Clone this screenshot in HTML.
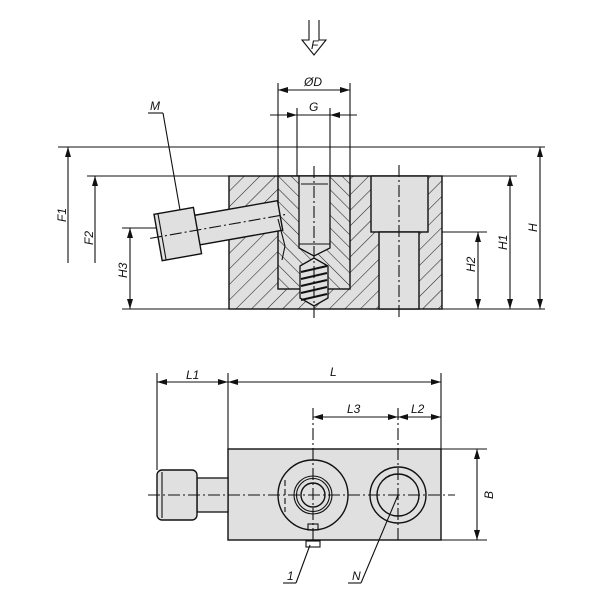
<!DOCTYPE html>
<html><head><meta charset="utf-8"><style>
html,body{margin:0;padding:0;background:#fff;}
svg{display:block;}
text{font-family:"Liberation Sans",sans-serif;font-style:italic;font-size:12px;fill:#111;}
</style></head><body>
<svg width="600" height="600" viewBox="0 0 600 600" xmlns="http://www.w3.org/2000/svg">
<defs>
<pattern id="h1" patternUnits="userSpaceOnUse" width="11" height="11" patternTransform="rotate(45)">
<rect width="11" height="11" fill="#e0e0e0"/><line x1="0" y1="0" x2="0" y2="11" stroke="#222" stroke-width="1.1"/></pattern>
<pattern id="h2" patternUnits="userSpaceOnUse" width="9" height="9" patternTransform="rotate(-45)">
<rect width="9" height="9" fill="#e0e0e0"/><line x1="0" y1="0" x2="0" y2="9" stroke="#222" stroke-width="1.1"/></pattern>
<marker id="a" viewBox="0 0 10 6" refX="10" refY="3" markerWidth="10" markerHeight="6" orient="auto-start-reverse" markerUnits="userSpaceOnUse"><path d="M0,0 L10,3 L0,6 z" fill="#111"/></marker>
</defs>
<g stroke="#111" fill="none" stroke-width="1.1">
<!-- F arrow -->
<path d="M309,20 V40 H302 L314,55 L326,40 H319 V20"/>
<text x="311" y="49" stroke="none" font-size="10">F</text>

<line x1="58" y1="147" x2="545" y2="147"/>
<line x1="87" y1="176" x2="517" y2="176"/>
<line x1="122" y1="309" x2="545" y2="309"/>
<line x1="430" y1="232" x2="487" y2="232"/>
<line x1="122" y1="228" x2="162" y2="228"/>
<line x1="68" y1="263" x2="68" y2="147" marker-end="url(#a)"/>
<line x1="95" y1="263" x2="95" y2="176" marker-end="url(#a)"/>
<line x1="130" y1="228" x2="130" y2="309" marker-start="url(#a)" marker-end="url(#a)"/>
<line x1="478" y1="232" x2="478" y2="309" marker-start="url(#a)" marker-end="url(#a)"/>
<line x1="510" y1="176" x2="510" y2="309" marker-start="url(#a)" marker-end="url(#a)"/>
<line x1="540" y1="147" x2="540" y2="309" marker-start="url(#a)" marker-end="url(#a)"/>

<line x1="278" y1="83" x2="278" y2="176"/>
<line x1="350" y1="83" x2="350" y2="176"/>
<line x1="297" y1="108" x2="297" y2="176"/>
<line x1="330" y1="108" x2="330" y2="176"/>
<line x1="278" y1="90" x2="350" y2="90" marker-start="url(#a)" marker-end="url(#a)"/>
<line x1="270" y1="115" x2="297" y2="115" marker-end="url(#a)"/>
<line x1="357" y1="115" x2="330" y2="115" marker-end="url(#a)"/>
<line x1="297" y1="115" x2="330" y2="115"/>

<rect x="229" y="176" width="213" height="133" fill="url(#h1)" stroke-width="1.4"/>
<rect x="278" y="176" width="72" height="113" fill="url(#h2)" stroke-width="1.4"/>
<path d="M299,176 V248 L314,256 L330,248 V176 Z" fill="#e0e0e0" stroke-width="1.3"/>
<line x1="301" y1="184" x2="328" y2="184"/>
<line x1="299" y1="244" x2="330" y2="244"/>
<path d="M300,266 L314,258 L328,266 V298 L314,306 L300,298 Z" fill="#e0e0e0" stroke-width="1.3"/>
<g stroke-width="2"><line x1="301" y1="272" x2="327" y2="266"/><line x1="301" y1="279" x2="327" y2="273"/><line x1="301" y1="286" x2="327" y2="280"/><line x1="301" y1="293" x2="327" y2="287"/><line x1="301" y1="300" x2="327" y2="294"/></g>
<rect x="371" y="176" width="57" height="56" fill="#e0e0e0" stroke-width="1.4"/>
<rect x="379" y="232" width="40" height="77" fill="#e0e0e0" stroke-width="1.4"/>
<line x1="399" y1="165" x2="399" y2="318" stroke-dasharray="12,3,2,3"/>
<line x1="314" y1="166" x2="314" y2="318" stroke-dasharray="12,3,2,3"/>
<g transform="rotate(-10 158 237)">
<rect x="196" y="222" width="86" height="30" fill="#e0e0e0" stroke-width="1.4"/>
<rect x="158" y="214" width="40" height="47" fill="#e0e0e0" stroke-width="1.4"/>
<line x1="162" y1="214" x2="162" y2="261"/>
<line x1="150" y1="237" x2="290" y2="237" stroke-dasharray="12,3,2,3"/>
</g>
<path d="M278,219 L285,246 L282,260"/>
<line x1="148" y1="113" x2="163" y2="113"/>
<line x1="163" y1="113" x2="180" y2="210"/>
<text x="150" y="110" stroke="none">M</text>

<rect x="228" y="449" width="213" height="91" fill="#e0e0e0" stroke-width="1.4"/>
<rect x="197" y="478" width="31" height="34" fill="#e0e0e0" stroke-width="1.3"/>
<rect x="157" y="470" width="40" height="50" rx="5" fill="#e0e0e0" stroke-width="1.4"/>
<line x1="162" y1="472" x2="162" y2="518"/>
<circle cx="313" cy="495" r="35" stroke-width="1.4"/>
<circle cx="313" cy="495" r="19"/>
<circle cx="313" cy="495" r="16.5"/>
<circle cx="313" cy="495" r="12" stroke-width="1.4"/>
<circle cx="398" cy="495" r="28" stroke-width="1.4"/>
<circle cx="398" cy="495" r="21" stroke-width="1.4"/>
<rect x="308" y="524" width="10" height="6"/>
<rect x="306" y="541" width="14" height="6"/>
<line x1="148" y1="495" x2="455" y2="495" stroke-dasharray="12,3,2,3"/>
<line x1="313" y1="408" x2="313" y2="540" stroke-dasharray="12,3,2,3"/>
<line x1="398" y1="408" x2="398" y2="540" stroke-dasharray="12,3,2,3"/>
<line x1="285" y1="480" x2="285" y2="512" stroke-dasharray="6,3"/>
<line x1="157" y1="373" x2="157" y2="470"/>
<line x1="228" y1="373" x2="228" y2="449"/>
<line x1="441" y1="373" x2="441" y2="449"/>
<line x1="157" y1="382" x2="228" y2="382" marker-start="url(#a)" marker-end="url(#a)"/>
<line x1="228" y1="382" x2="441" y2="382" marker-start="url(#a)" marker-end="url(#a)"/>
<line x1="313" y1="417" x2="398" y2="417" marker-start="url(#a)" marker-end="url(#a)"/>
<line x1="398" y1="417" x2="441" y2="417" marker-start="url(#a)" marker-end="url(#a)"/>
<line x1="441" y1="449" x2="487" y2="449"/>
<line x1="441" y1="540" x2="487" y2="540"/>
<line x1="477" y1="449" x2="477" y2="540" marker-start="url(#a)" marker-end="url(#a)"/>
<line x1="283" y1="583" x2="296" y2="583"/>
<line x1="296" y1="583" x2="310" y2="545"/>
<line x1="348" y1="583" x2="361" y2="583"/>
<line x1="361" y1="583" x2="398" y2="495"/>
</g>
<g stroke="none">
<text x="186" y="379">L1</text>
<text x="330" y="376">L</text>
<text x="347" y="413">L3</text>
<text x="411" y="413">L2</text>
<text x="287" y="580">1</text>
<text x="352" y="580">N</text>
<text x="304" y="86">ØD</text>
<text x="309" y="111">G</text>
<text transform="translate(493,499) rotate(-90)">B</text>
<text transform="translate(66,222) rotate(-90)">F1</text>
<text transform="translate(93,245) rotate(-90)">F2</text>
<text transform="translate(127,278) rotate(-90)">H3</text>
<text transform="translate(475,272) rotate(-90)">H2</text>
<text transform="translate(507,250) rotate(-90)">H1</text>
<text transform="translate(537,232) rotate(-90)">H</text>
</g>
</svg>
</body></html>
